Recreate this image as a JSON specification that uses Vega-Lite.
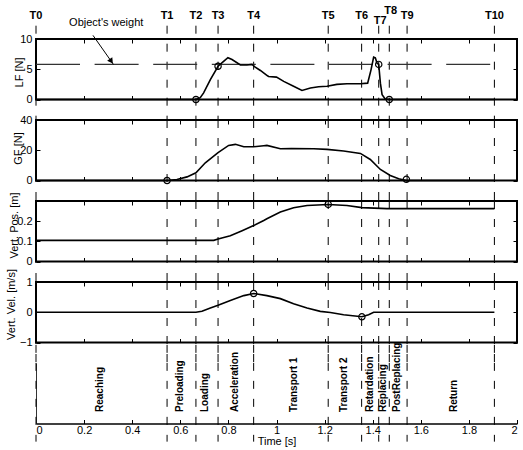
{
  "$schema": "https://vega.github.io/schema/vega-lite/v6.json",
  "padding": {"left": 4, "top": 4, "right": 0, "bottom": 0},
  "bounds": "flush",
  "spacing": 20,
  "config": {
    "font": "Liberation Sans",
    "view": {"stroke": "black", "strokeWidth": 2},
    "axis": {"domain": false, "grid": false, "tickColor": "black", "tickWidth": 1, "tickSize": -4, "labelFontSize": 11, "labelColor": "black", "titleFontSize": 11, "titleFontWeight": "normal", "titleColor": "black", "labelPadding": 8}
  },
  "datasets": {
    "tlines": [{"t":0,"name":"T0"},{"t":0.545,"name":"T1"},{"t":0.665,"name":"T2"},{"t":0.757,"name":"T3"},{"t":0.905,"name":"T4"},{"t":1.215,"name":"T5"},{"t":1.354,"name":"T6"},{"t":1.425,"name":"T7"},{"t":1.469,"name":"T8"},{"t":1.543,"name":"T9"},{"t":1.906,"name":"T10"}],
    "lf": [{"t":0,"v":0},{"t":0.665,"v":0},{"t":0.683,"v":0.3},{"t":0.697,"v":1.1},{"t":0.725,"v":3.3},{"t":0.757,"v":5.5},{"t":0.78,"v":6.3},{"t":0.798,"v":6.9},{"t":0.815,"v":6.6},{"t":0.85,"v":5.7},{"t":0.877,"v":5.7},{"t":0.898,"v":5.8},{"t":0.91,"v":5.4},{"t":0.933,"v":4.8},{"t":0.96,"v":4.0},{"t":0.967,"v":3.8},{"t":1.0,"v":3.7},{"t":1.03,"v":3.0},{"t":1.071,"v":2.2},{"t":1.106,"v":1.5},{"t":1.141,"v":1.9},{"t":1.175,"v":2.1},{"t":1.21,"v":2.2},{"t":1.251,"v":2.5},{"t":1.293,"v":2.6},{"t":1.349,"v":2.6},{"t":1.379,"v":2.7},{"t":1.393,"v":4.9},{"t":1.404,"v":7.0},{"t":1.411,"v":6.9},{"t":1.418,"v":6.0},{"t":1.425,"v":5.8},{"t":1.432,"v":2.7},{"t":1.439,"v":0.8},{"t":1.452,"v":0.1},{"t":1.469,"v":0},{"t":1.906,"v":0}],
    "lfc": [{"t":0.665,"v":0},{"t":0.757,"v":5.5},{"t":1.425,"v":5.8},{"t":1.469,"v":0}],
    "weight": [{"t":0,"v":5.8},{"t":1.906,"v":5.8}],
    "arrow": [{"t":0.237,"v":10.6},{"t":0.322,"v":5.8}],
    "arrowhead": [{"t":0.313,"v":6.33}],
    "note": [{"label":"Object's weight","t":0.292,"v":12.7}],
    "gf": [{"t":0,"v":0},{"t":0.545,"v":0},{"t":0.586,"v":0.7},{"t":0.628,"v":2.4},{"t":0.665,"v":5.1},{"t":0.704,"v":11.7},{"t":0.757,"v":18.4},{"t":0.801,"v":23.2},{"t":0.829,"v":23.9},{"t":0.864,"v":22.3},{"t":0.905,"v":22.3},{"t":0.947,"v":23.0},{"t":0.96,"v":23.2},{"t":1.016,"v":21.0},{"t":1.062,"v":21.2},{"t":1.155,"v":21.0},{"t":1.21,"v":20.6},{"t":1.279,"v":19.5},{"t":1.349,"v":17.9},{"t":1.39,"v":13.9},{"t":1.432,"v":7.3},{"t":1.473,"v":3.3},{"t":1.508,"v":1.1},{"t":1.54,"v":0},{"t":1.906,"v":0}],
    "gfc": [{"t":0.545,"v":0},{"t":1.54,"v":0.8}],
    "pos": [{"t":0,"v":0.105},{"t":0.739,"v":0.105},{"t":0.757,"v":0.112},{"t":0.808,"v":0.128},{"t":0.857,"v":0.153},{"t":0.905,"v":0.178},{"t":0.947,"v":0.203},{"t":0.96,"v":0.212},{"t":1.016,"v":0.245},{"t":1.071,"v":0.267},{"t":1.127,"v":0.278},{"t":1.215,"v":0.283},{"t":1.293,"v":0.278},{"t":1.355,"v":0.267},{"t":1.459,"v":0.262},{"t":1.906,"v":0.262}],
    "posc": [{"t":1.215,"v":0.283}],
    "vel": [{"t":0,"v":0},{"t":0.665,"v":0},{"t":0.69,"v":0.03},{"t":0.725,"v":0.14},{"t":0.757,"v":0.23},{"t":0.808,"v":0.39},{"t":0.864,"v":0.55},{"t":0.905,"v":0.62},{"t":0.96,"v":0.55},{"t":1.016,"v":0.45},{"t":1.071,"v":0.28},{"t":1.127,"v":0.14},{"t":1.182,"v":0.03},{"t":1.224,"v":-0.01},{"t":1.279,"v":-0.08},{"t":1.355,"v":-0.15},{"t":1.383,"v":-0.08},{"t":1.404,"v":0},{"t":1.906,"v":0}],
    "velc": [{"t":0.905,"v":0.62},{"t":1.355,"v":-0.15}],
    "phases": [{"phase":"Reaching","t":0.267},{"phase":"Preloading","t":0.597},{"phase":"Loading","t":0.704},{"phase":"Acceleration","t":0.829},{"phase":"Transport 1","t":1.071},{"phase":"Transport 2","t":1.282},{"phase":"Retardation","t":1.387},{"phase":"Replacing","t":1.443},{"phase":"PostReplacing","t":1.501},{"phase":"Return","t":1.737}]
  },
  "vconcat": [
    {
      "width": 481, "height": 60.5,
      "resolve": {"axis": {"x": "independent", "y": "independent"}},
      "layer": [
        {
          "data": {"name": "tlines"},
          "mark": {"type": "rule", "strokeDash": [8, 10], "strokeWidth": 1, "color": "black", "clip": false},
          "encoding": {
            "x": {"field": "t", "type": "quantitative", "scale": {"domain": [0, 2], "nice": false}, "axis": null},
            "y": {"datum": 12.2, "type": "quantitative", "scale": {"domain": [0, 10], "nice": false, "zero": false}, "axis": null},
            "y2": {"datum": -3.4}
          }
        },
        {
          "data": {"name": "tlines"},
          "transform": [{"filter": "datum.name != 'T7' && datum.name != 'T8'"}],
          "mark": {"type": "text", "fontWeight": "bold", "fontSize": 11, "baseline": "middle", "align": "center", "clip": false},
          "encoding": {
            "x": {"field": "t", "type": "quantitative", "scale": {"domain": [0, 2], "nice": false}, "axis": null},
            "y": {"datum": 13.74, "type": "quantitative", "scale": {"domain": [0, 10], "nice": false, "zero": false}, "axis": null},
            "text": {"field": "name"}
          }
        },
        {
          "data": {"name": "tlines"},
          "transform": [{"filter": "datum.name == 'T7'"}],
          "mark": {"type": "text", "fontWeight": "bold", "fontSize": 11, "baseline": "middle", "align": "center", "dx": 1.5, "clip": false},
          "encoding": {
            "x": {"field": "t", "type": "quantitative", "scale": {"domain": [0, 2], "nice": false}, "axis": null},
            "y": {"datum": 12.91, "type": "quantitative", "scale": {"domain": [0, 10], "nice": false, "zero": false}, "axis": null},
            "text": {"field": "name"}
          }
        },
        {
          "data": {"name": "tlines"},
          "transform": [{"filter": "datum.name == 'T8'"}],
          "mark": {"type": "text", "fontWeight": "bold", "fontSize": 11, "baseline": "middle", "align": "center", "dx": 1.5, "clip": false},
          "encoding": {
            "x": {"field": "t", "type": "quantitative", "scale": {"domain": [0, 2], "nice": false}, "axis": null},
            "y": {"datum": 14.56, "type": "quantitative", "scale": {"domain": [0, 10], "nice": false, "zero": false}, "axis": null},
            "text": {"field": "name"}
          }
        },
        {
          "data": {"name": "weight"},
          "mark": {"type": "line", "strokeDash": [44, 14.6], "strokeWidth": 1.2, "color": "#333"},
          "encoding": {
            "x": {"field": "t", "type": "quantitative", "scale": {"domain": [0, 2], "nice": false}, "axis": null},
            "y": {"field": "v", "type": "quantitative", "scale": {"domain": [0, 10], "nice": false, "zero": false}, "axis": null}
          }
        },
        {
          "data": {"name": "arrow"},
          "mark": {"type": "line", "strokeWidth": 1, "color": "black", "clip": false},
          "encoding": {
            "x": {"field": "t", "type": "quantitative", "scale": {"domain": [0, 2], "nice": false}, "axis": null},
            "y": {"field": "v", "type": "quantitative", "scale": {"domain": [0, 10], "nice": false, "zero": false}, "axis": null}
          }
        },
        {
          "data": {"name": "arrowhead"},
          "mark": {"type": "point", "shape": "triangle-down", "filled": true, "color": "black", "size": 40, "angle": 325, "opacity": 1},
          "encoding": {
            "x": {"field": "t", "type": "quantitative", "scale": {"domain": [0, 2], "nice": false}, "axis": null},
            "y": {"field": "v", "type": "quantitative", "scale": {"domain": [0, 10], "nice": false, "zero": false}, "axis": null}
          }
        },
        {
          "data": {"name": "note"},
          "mark": {"type": "text", "fontSize": 11, "baseline": "middle", "align": "center", "clip": false},
          "encoding": {
            "x": {"field": "t", "type": "quantitative", "scale": {"domain": [0, 2], "nice": false}, "axis": null},
            "y": {"field": "v", "type": "quantitative", "scale": {"domain": [0, 10], "nice": false, "zero": false}, "axis": null},
            "text": {"field": "label"}
          }
        },
        {
          "data": {"name": "lf"},
          "mark": {"type": "line", "strokeWidth": 1.6, "color": "black"},
          "encoding": {
            "x": {"field": "t", "type": "quantitative", "scale": {"domain": [0, 2], "nice": false}, "axis": {"orient": "bottom", "values": [0.2, 0.4, 0.6, 0.8, 1, 1.2, 1.4, 1.6, 1.8], "labels": false, "title": null}},
            "y": {"field": "v", "type": "quantitative", "scale": {"domain": [0, 10], "nice": false, "zero": false}, "axis": {"orient": "left", "values": [0, 5, 10], "title": "LF [N]", "titleAngle": -90, "titleBaseline": "middle", "titleAlign": "center", "titleX": -17, "titleY": 33}}
          }
        },
        {
          "data": {"name": "lfc"},
          "mark": {"type": "point", "shape": "circle", "filled": false, "color": "black", "size": 40, "strokeWidth": 1.2, "opacity": 1},
          "encoding": {
            "x": {"field": "t", "type": "quantitative", "scale": {"domain": [0, 2], "nice": false}, "axis": {"orient": "top", "values": [0.2, 0.4, 0.6, 0.8, 1, 1.2, 1.4, 1.6, 1.8], "labels": false, "title": null}},
            "y": {"field": "v", "type": "quantitative", "scale": {"domain": [0, 10], "nice": false, "zero": false}, "axis": {"orient": "right", "values": [0, 5, 10], "labels": false, "title": null}}
          }
        }
      ]
    },
    {
      "width": 481, "height": 60.5,
      "resolve": {"axis": {"x": "independent", "y": "independent"}},
      "layer": [
        {
          "data": {"name": "tlines"},
          "mark": {"type": "rule", "strokeDash": [8, 10], "strokeWidth": 1, "color": "black", "clip": false},
          "encoding": {
            "x": {"field": "t", "type": "quantitative", "scale": {"domain": [0, 2], "nice": false}, "axis": null},
            "y": {"datum": 40, "type": "quantitative", "scale": {"domain": [0, 40], "nice": false, "zero": false}, "axis": null},
            "y2": {"datum": -13.3}
          }
        },
        {
          "data": {"name": "gf"},
          "mark": {"type": "line", "strokeWidth": 1.6, "color": "black"},
          "encoding": {
            "x": {"field": "t", "type": "quantitative", "scale": {"domain": [0, 2], "nice": false}, "axis": {"orient": "bottom", "values": [0.2, 0.4, 0.6, 0.8, 1, 1.2, 1.4, 1.6, 1.8], "labels": false, "title": null}},
            "y": {"field": "v", "type": "quantitative", "scale": {"domain": [0, 40], "nice": false, "zero": false}, "axis": {"orient": "left", "values": [0, 20, 40], "title": "GF [N]", "titleAngle": -90, "titleBaseline": "middle", "titleAlign": "center", "titleX": -18, "titleY": 28}}
          }
        },
        {
          "data": {"name": "gfc"},
          "mark": {"type": "point", "shape": "circle", "filled": false, "color": "black", "size": 40, "strokeWidth": 1.2, "opacity": 1},
          "encoding": {
            "x": {"field": "t", "type": "quantitative", "scale": {"domain": [0, 2], "nice": false}, "axis": {"orient": "top", "values": [0.2, 0.4, 0.6, 0.8, 1, 1.2, 1.4, 1.6, 1.8], "labels": false, "title": null}},
            "y": {"field": "v", "type": "quantitative", "scale": {"domain": [0, 40], "nice": false, "zero": false}, "axis": {"orient": "right", "values": [0, 20, 40], "labels": false, "title": null}}
          }
        }
      ]
    },
    {
      "width": 481, "height": 60.5,
      "resolve": {"axis": {"x": "independent", "y": "independent"}},
      "layer": [
        {
          "data": {"name": "tlines"},
          "mark": {"type": "rule", "strokeDash": [8, 10], "strokeWidth": 1, "color": "black", "clip": false},
          "encoding": {
            "x": {"field": "t", "type": "quantitative", "scale": {"domain": [0, 2], "nice": false}, "axis": null},
            "y": {"datum": 0.3, "type": "quantitative", "scale": {"domain": [0, 0.3], "nice": false, "zero": false}, "axis": null},
            "y2": {"datum": -0.1}
          }
        },
        {
          "data": {"name": "pos"},
          "mark": {"type": "line", "strokeWidth": 1.6, "color": "black"},
          "encoding": {
            "x": {"field": "t", "type": "quantitative", "scale": {"domain": [0, 2], "nice": false}, "axis": {"orient": "bottom", "values": [0.2, 0.4, 0.6, 0.8, 1, 1.2, 1.4, 1.6, 1.8], "labels": false, "title": null}},
            "y": {"field": "v", "type": "quantitative", "scale": {"domain": [0, 0.3], "nice": false, "zero": false}, "axis": {"orient": "left", "values": [0, 0.1, 0.2], "format": "~g", "title": "Vert. Pos. [m]", "titleAngle": -90, "titleBaseline": "middle", "titleAlign": "center", "titleX": -22, "titleY": 24}}
          }
        },
        {
          "data": {"name": "posc"},
          "mark": {"type": "point", "shape": "circle", "filled": false, "color": "black", "size": 40, "strokeWidth": 1.2, "opacity": 1},
          "encoding": {
            "x": {"field": "t", "type": "quantitative", "scale": {"domain": [0, 2], "nice": false}, "axis": {"orient": "top", "values": [0.2, 0.4, 0.6, 0.8, 1, 1.2, 1.4, 1.6, 1.8], "labels": false, "title": null}},
            "y": {"field": "v", "type": "quantitative", "scale": {"domain": [0, 0.3], "nice": false, "zero": false}, "axis": {"orient": "right", "values": [0, 0.1, 0.2], "labels": false, "title": null}}
          }
        }
      ]
    },
    {
      "width": 481, "height": 60.5,
      "resolve": {"axis": {"x": "independent", "y": "independent"}},
      "layer": [
        {
          "data": {"name": "tlines"},
          "mark": {"type": "rule", "strokeDash": [8, 10], "strokeWidth": 1, "color": "black", "clip": false},
          "encoding": {
            "x": {"field": "t", "type": "quantitative", "scale": {"domain": [0, 2], "nice": false}, "axis": null},
            "y": {"datum": 1, "type": "quantitative", "scale": {"domain": [-1, 1], "nice": false, "zero": false}, "axis": null},
            "y2": {"datum": -1.66}
          }
        },
        {
          "data": {"name": "vel"},
          "mark": {"type": "line", "strokeWidth": 1.6, "color": "black"},
          "encoding": {
            "x": {"field": "t", "type": "quantitative", "scale": {"domain": [0, 2], "nice": false}, "axis": {"orient": "bottom", "values": [0.2, 0.4, 0.6, 0.8, 1, 1.2, 1.4, 1.6, 1.8], "labels": false, "title": null}},
            "y": {"field": "v", "type": "quantitative", "scale": {"domain": [-1, 1], "nice": false, "zero": false}, "axis": {"orient": "left", "values": [-1, 0, 1], "format": "~g", "title": "Vert. Vel. [m/s]", "titleAngle": -90, "titleBaseline": "middle", "titleAlign": "center", "titleX": -25, "titleY": 22}}
          }
        },
        {
          "data": {"name": "velc"},
          "mark": {"type": "point", "shape": "circle", "filled": false, "color": "black", "size": 40, "strokeWidth": 1.2, "opacity": 1},
          "encoding": {
            "x": {"field": "t", "type": "quantitative", "scale": {"domain": [0, 2], "nice": false}, "axis": {"orient": "top", "values": [0.2, 0.4, 0.6, 0.8, 1, 1.2, 1.4, 1.6, 1.8], "labels": false, "title": null}},
            "y": {"field": "v", "type": "quantitative", "scale": {"domain": [-1, 1], "nice": false, "zero": false}, "axis": {"orient": "right", "values": [-1, 0, 1], "labels": false, "title": null}}
          }
        }
      ]
    },
    {
      "width": 481, "height": 60.5,
      "view": {"stroke": null},
      "layer": [
        {
          "data": {"name": "tlines"},
          "mark": {"type": "rule", "strokeDash": [8, 10], "strokeWidth": 1, "color": "black", "clip": false},
          "encoding": {
            "x": {"field": "t", "type": "quantitative", "scale": {"domain": [0, 2], "nice": false}, "axis": {"orient": "bottom", "values": [0, 0.2, 0.4, 0.6, 0.8, 1, 1.2, 1.4, 1.6, 1.8, 2], "format": "~g", "domain": true, "domainColor": "black", "domainWidth": 1.5, "labelPadding": 5, "title": "Time [s]", "titlePadding": 0}},
            "y": {"datum": 1.3, "type": "quantitative", "scale": {"domain": [0, 1], "nice": false, "zero": false}, "axis": {"orient": "left", "domain": true, "domainColor": "#333", "domainWidth": 1, "ticks": false, "labels": false, "title": null}},
            "y2": {"datum": -0.3}
          }
        },
        {
          "data": {"name": "phases"},
          "mark": {"type": "text", "fontWeight": "bold", "fontSize": 10, "angle": 270, "align": "left", "baseline": "middle"},
          "encoding": {
            "x": {"field": "t", "type": "quantitative", "scale": {"domain": [0, 2], "nice": false}},
            "y": {"datum": 0.19, "type": "quantitative", "scale": {"domain": [0, 1], "nice": false, "zero": false}},
            "text": {"field": "phase"}
          }
        }
      ]
    }
  ]
}
